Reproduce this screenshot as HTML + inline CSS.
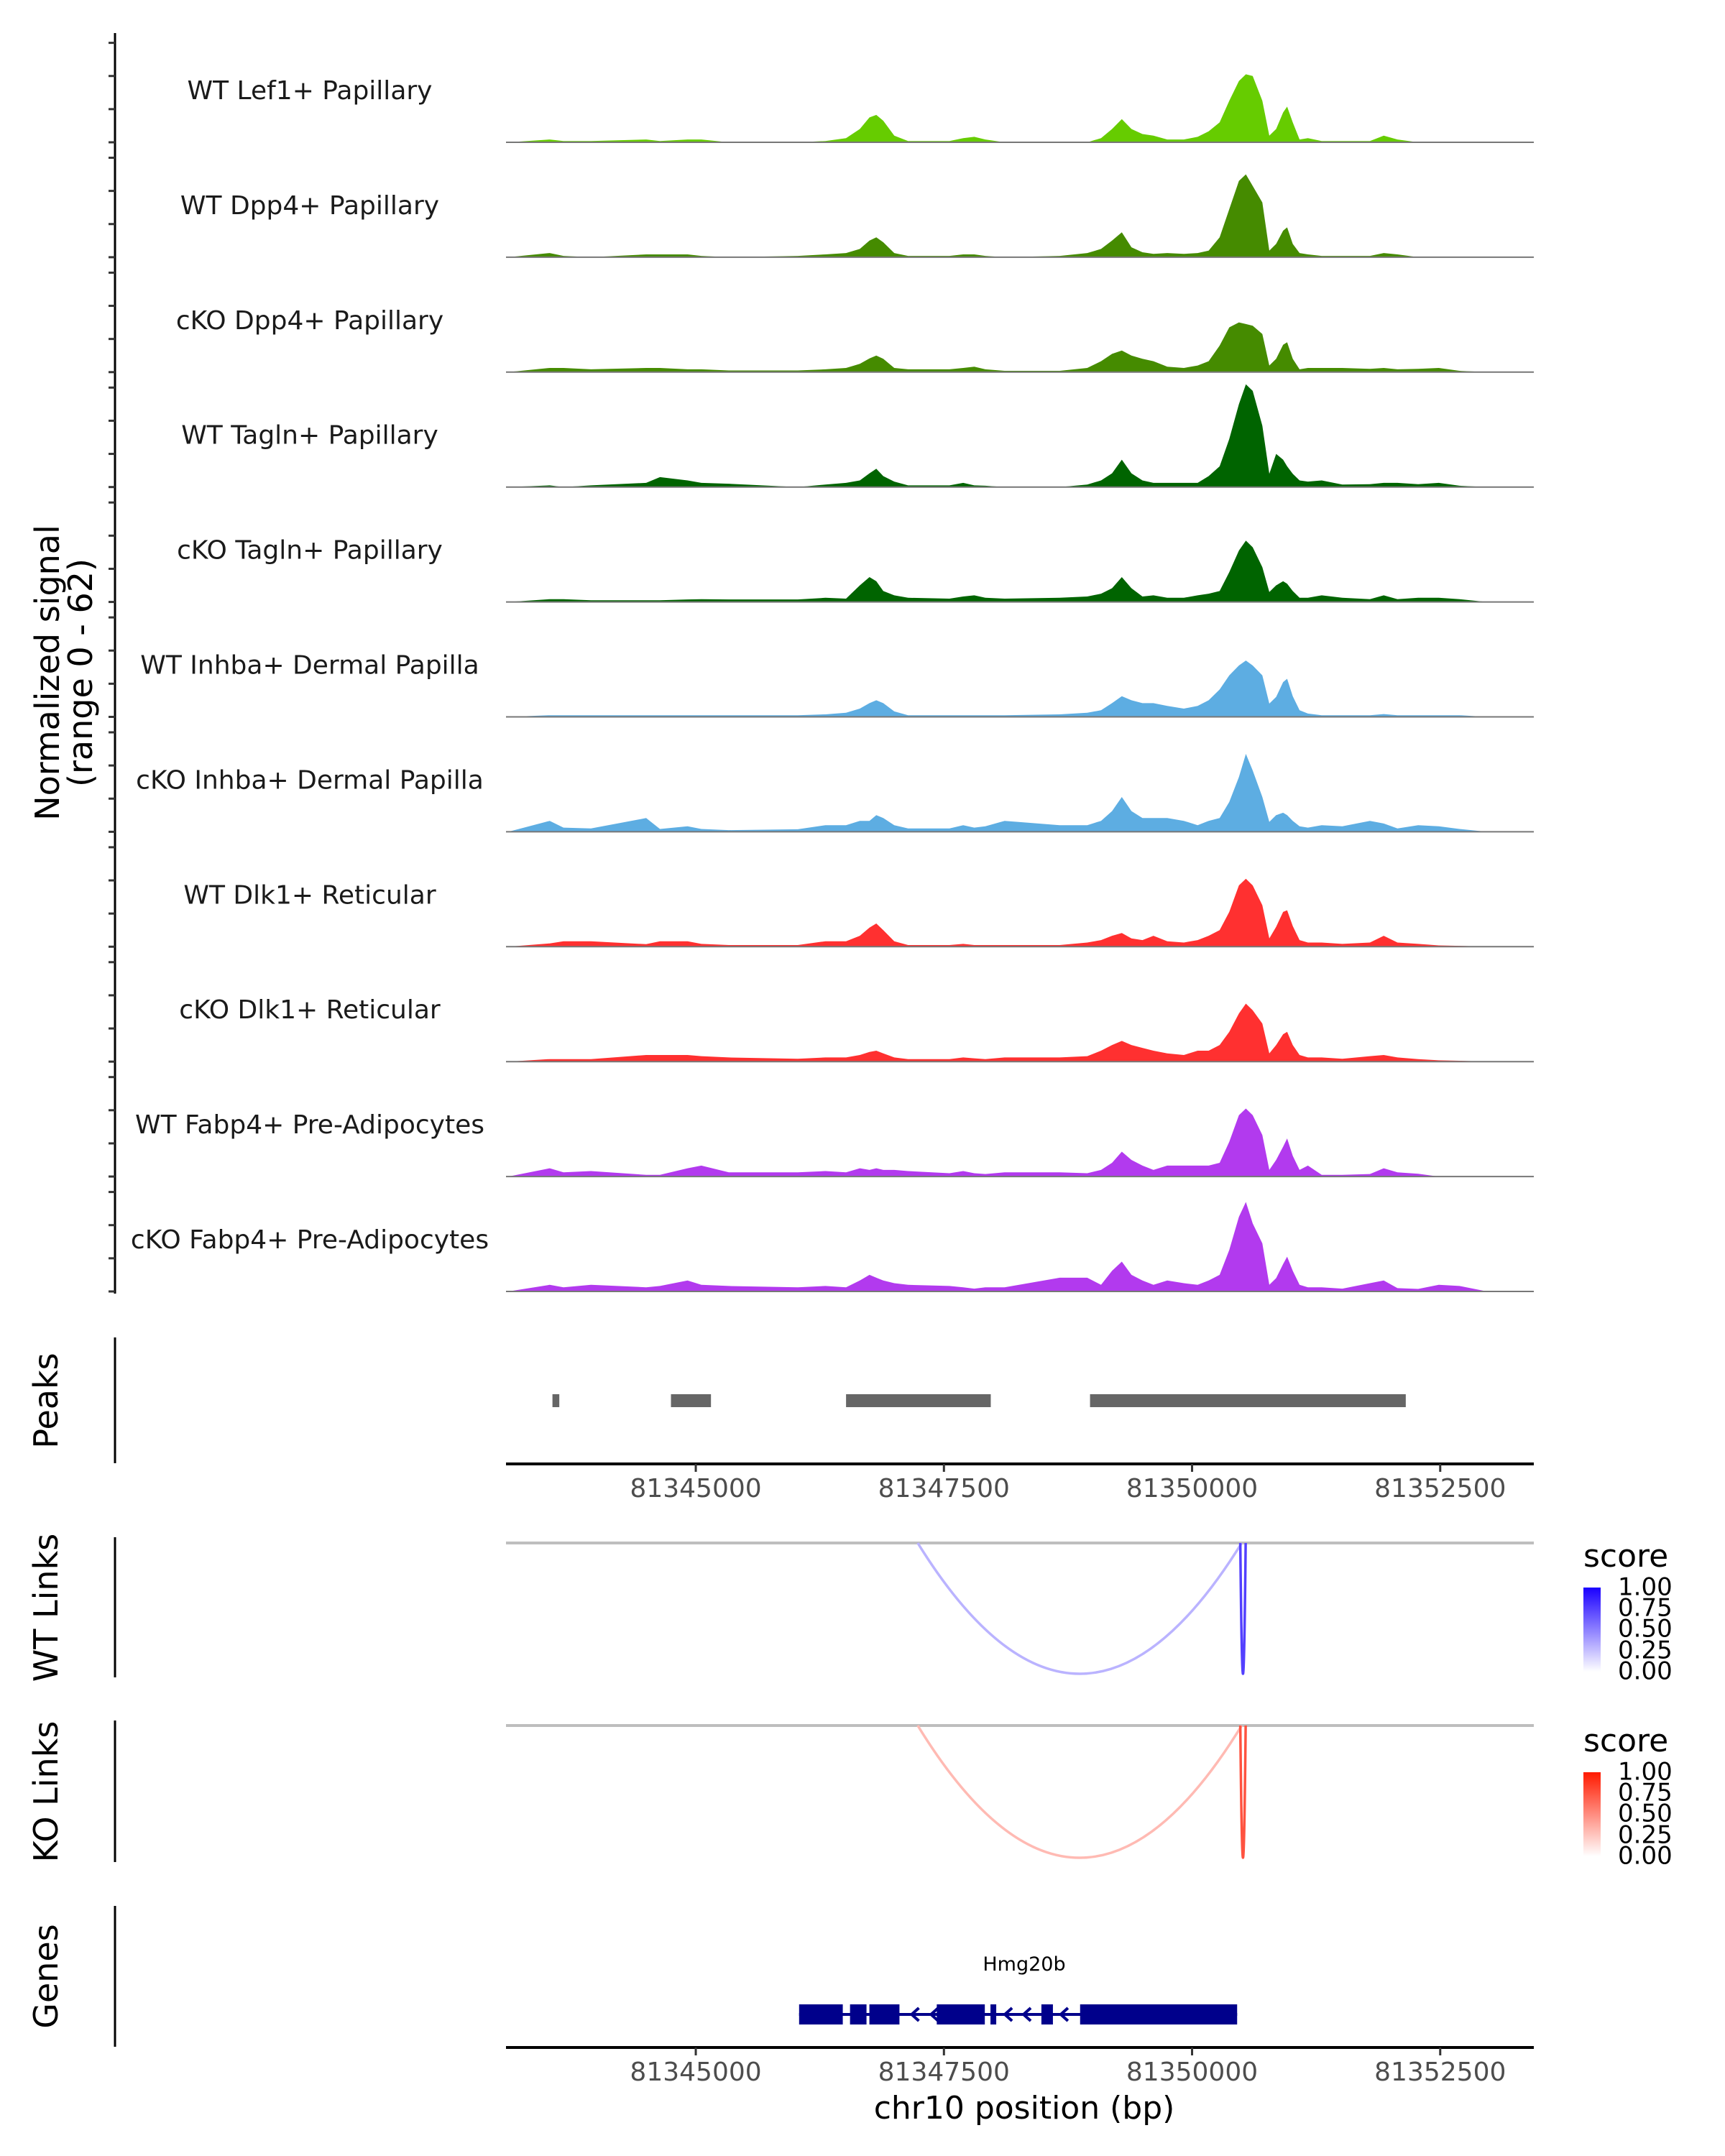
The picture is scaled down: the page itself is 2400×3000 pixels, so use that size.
<!DOCTYPE html>
<html><head><meta charset="utf-8">
<style>
html,body{margin:0;padding:0;background:#fff;}
svg{display:block;font-family:"DejaVu Sans","Liberation Sans",sans-serif;}
</style></head>
<body>
<svg id="chart" width="2400" height="3000" viewBox="0 0 2400 3000" xmlns="http://www.w3.org/2000/svg">
  <rect width="2400" height="3000" fill="#fff"/>
  <g id="tracks"></g>
  <g id="yaxis"></g>
  <text transform="translate(82,936) rotate(-90)" text-anchor="middle" font-size="46" fill="#000">Normalized signal</text>
  <text transform="translate(128,936) rotate(-90)" text-anchor="middle" font-size="46" fill="#000">(range 0 - 62)</text>

  <g id="peaks"></g>
  <line x1="160" y1="1861" x2="160" y2="2036" stroke="#000" stroke-width="3"/>
  <text transform="translate(80,1949) rotate(-90)" text-anchor="middle" font-size="46">Peaks</text>
  <g id="xaxis1"></g>

  <g id="links"></g>
  <line x1="160" y1="2139" x2="160" y2="2334" stroke="#000" stroke-width="3"/>
  <text transform="translate(80,2237) rotate(-90)" text-anchor="middle" font-size="46">WT Links</text>
  <line x1="160" y1="2394" x2="160" y2="2591" stroke="#000" stroke-width="3"/>
  <text transform="translate(80,2493) rotate(-90)" text-anchor="middle" font-size="46">KO Links</text>

  <defs>
    <linearGradient id="gBlue" x1="0" y1="1" x2="0" y2="0">
      <stop offset="0" stop-color="#ffffff"/><stop offset="1" stop-color="#1a00ff"/>
    </linearGradient>
    <linearGradient id="gRed" x1="0" y1="1" x2="0" y2="0">
      <stop offset="0" stop-color="#ffffff"/><stop offset="1" stop-color="#ff1a00"/>
    </linearGradient>
  </defs>
  <g>
    <text x="2203" y="2180" font-size="44">score</text>
    <rect x="2203" y="2209" width="24" height="117" fill="url(#gBlue)"/>
    <g font-size="34" fill="#000" dominant-baseline="middle">
      <text x="2251" y="2210">1.00</text><text x="2251" y="2239">0.75</text><text x="2251" y="2268">0.50</text><text x="2251" y="2298">0.25</text><text x="2251" y="2327">0.00</text>
    </g>
  </g>
  <g>
    <text x="2203" y="2437" font-size="44">score</text>
    <rect x="2203" y="2466" width="24" height="117" fill="url(#gRed)"/>
    <g font-size="34" fill="#000" dominant-baseline="middle">
      <text x="2251" y="2467">1.00</text><text x="2251" y="2496">0.75</text><text x="2251" y="2525">0.50</text><text x="2251" y="2555">0.25</text><text x="2251" y="2584">0.00</text>
    </g>
  </g>

  <g id="genes"></g>
  <line x1="160" y1="2652" x2="160" y2="2848" stroke="#000" stroke-width="3"/>
  <text transform="translate(80,2750) rotate(-90)" text-anchor="middle" font-size="46">Genes</text>
  <g id="xaxis2"></g>
  <text x="1425" y="2948" text-anchor="middle" font-size="44">chr10 position (bp)</text>
</svg>
<script>
const positions = [81343111,81343528,81343667,81343944,81344500,81344639,81344917,81345056,81345333,81346028,81346306,81346514,81346653,81346750,81346819,81346889,81347000,81347139,81347556,81347694,81347806,81347917,81348111,81348667,81348944,81349083,81349194,81349292,81349389,81349500,81349611,81349750,81349917,81350056,81350167,81350278,81350375,81350472,81350542,81350611,81350708,81350778,81350847,81350917,81350958,81351014,81351083,81351167,81351306,81351514,81351792,81351931,81352069,81352278,81352486,81352694,81352972,81353458];
const trackNames = ["WT Lef1+ Papillary","WT Dpp4+ Papillary","cKO Dpp4+ Papillary","WT Tagln+ Papillary","cKO Tagln+ Papillary","WT Inhba+ Dermal Papilla","cKO Inhba+ Dermal Papilla","WT Dlk1+ Reticular","cKO Dlk1+ Reticular","WT Fabp4+ Pre-Adipocytes","cKO Fabp4+ Pre-Adipocytes"];
const trackColors = ["#66CC00","#458B00","#458B00","#006400","#006400","#5DADE2","#5DADE2","#FF3030","#FF3030","#B23AEE","#B23AEE"];
const sigWtLef1 = [0,1.7,0.8,0.8,1.7,0.8,1.7,1.7,0,0,0.8,2.5,8,15,16.5,13,4,0.8,0.8,2.5,3.3,1.7,0,0,0,2.5,8,14,8,5,4,1.7,1.7,3.3,6.6,12,25,37,41,40,25,4,8,18,21.5,12,1.7,2.5,0.8,0.8,0.8,4,1.7,0,0,0,0,0];
const sigWtDpp4 = [0,2.5,0.8,0,1.7,1.7,1.7,0.8,0,0.8,1.7,2.5,5,10,12,9,2.5,0.8,0.8,1.7,1.7,0.8,0,0.8,2.5,5,10,15,6,3,2,2.5,2,2.5,4,12,29,46,50,43,33,4,8,16,18,8,2.5,1.7,0.8,0.8,0.8,2.5,1.7,0,0,0,0,0];
const sigKoDpp4 = [0,2.5,2.5,1.7,2.5,2.5,1.7,1.7,1,1,1.7,2.5,5,8.3,10,8,2.5,1.7,1.7,2.5,3.3,1.7,0.8,0.8,2.5,6.6,11,13,10,8,6.6,3.3,2.5,4,6.6,16,27,30,29,28,23,4,8,16.5,18,8,1.7,2.5,2.5,2.5,2,2.5,1.7,2,2.5,0.8,0,0];
const sigWtTagln = [0,1,0,1,2.5,6,4,2.5,2,0,1.5,2.5,4,8.3,11,6.6,3.3,1,1,2.5,1,0.8,0,0,1.5,4,8.3,16.5,8.3,4,2.5,2.5,2.5,2.5,6.6,12.5,29,50,62,58,37,8,20,16.5,12.5,8,4,3.3,4,1.5,1.7,2.5,2.5,1.7,2.5,0.8,0,0];
const sigKoTagln = [0,1.7,1.7,1,1,1,1.5,1.7,1.5,1.5,2.5,2,10,15,12.5,6.6,4,2.5,2,3.3,4,2.5,2,2.5,3.3,5,8.3,15,8.3,3.3,4,2.5,2.5,4,5,6.6,18,31,37,33,21,6,10,12.5,11,6.6,2.5,2.5,4,2.5,1.7,4,1.7,2.5,2.5,1.7,0,0];
const sigWtInhba = [0,1,1,1,1,1,1,1,1,1,1.5,2.5,5,8.3,10,8.3,3.3,1,1,1,1,1,1,1.5,2.5,4,8.3,12.5,10,8.3,8.3,6.6,5,6.6,10,16.5,25,31,34,31,25,8,12,21,23,12.5,4,2,1,1,1,1.7,1,1,1,1,0,0];
const sigKoInhba = [0,6.6,2.5,2,8.3,1.7,3.3,1.7,1,1.5,4,4,6.6,6.6,10,8.3,4,2,2,4,2.5,3.3,6.6,4,4,6.6,12.5,21,12.5,8.3,8.3,8.3,6.6,4,6.6,8.3,18,33,47,37,21,6,10,11.5,10,6.6,3.3,2.5,4,3.3,6.6,5,2,4,3.3,1.7,0,0];
const sigWtDlk1 = [0,2,3.3,3.3,1.5,3.3,3.3,1.7,1,1,3.3,3.3,6.6,11.5,14,10,3.3,1,1,1.7,1,1,1,1,2.5,4,6.6,8.3,5,4,6.6,3.3,2.5,4,6.6,10,21,37,41,37,25,5,12,21,22,12.5,4,2.5,2.5,1.7,2.5,6.6,2.5,1.7,0.8,0.5,0,0];
const sigKoDlk1 = [0,1.5,1.5,1.5,4,4,4,3.3,2.5,1.7,2.5,2.5,4,5.8,6.6,5,2.5,1.5,1.5,2.5,2,1.5,2.5,2.5,3.3,6.6,10,12.5,10,8.3,6.6,5,4,6.6,6.6,10,18,29,35,31,23,5,10,16.5,18,10,4,2.5,2.5,1.7,3.3,4,2.5,1.5,0.8,0.5,0,0];
const sigWtFabp4 = [0,5,2.5,3.3,1,1,5,6.6,2.5,2.5,3.3,2.5,5,4,5,4,4,3.3,2,3.3,2,1.5,2.5,2.5,2,4,8.3,15,10,6.6,4,6.6,6.6,6.6,6.6,8.3,21,37,41,37,25,4,10,18,23,12.5,4,6.6,1,1,1.5,5,2.5,1.7,0,0,0,0];
const sigKoFabp4 = [0,4,2.5,4,2.5,3.3,6.6,4,3.3,2.5,3.3,2.5,6.6,10,8.3,6.6,5,4,3.3,2.5,1.7,2.5,2.5,8.3,8.3,4,12.5,18,10,6.6,4,6.6,5,4,6.6,10,25,45,54,41,29,4,8,16.5,21,12.5,4,2.5,2.5,1.7,5,6.6,2,1.5,4,3.3,0,0];
const signals = [sigWtLef1,sigWtDpp4,sigKoDpp4,sigWtTagln,sigKoTagln,sigWtInhba,sigKoInhba,sigWtDlk1,sigKoDlk1,sigWtFabp4,sigKoFabp4];
const yTickValues = [0,20,40,60];
const xTickValues = [81345000,81347500,81350000,81352500];
const xTickLabels = ["81345000","81347500","81350000","81352500"];
const peakStarts = [81343556,81344750,81346514,81348972];
const peakEnds = [81343625,81345153,81347972,81352153];
const wtLinkStarts = [81347236,81350486];
const wtLinkEnds = [81350500,81350540];
const wtLinkScores = [0.3,0.75];
const koLinkStarts = [81347236,81350486];
const koLinkEnds = [81350500,81350540];
const koLinkScores = [0.3,0.75];
const exonStarts = [81346041,81346554,81346749,81347428,81347969,81348482,81348872];
const exonEnds = [81346481,81346720,81347052,81347912,81348027,81348598,81350454];
const arrowPositions = [81347204,81347399,81348143,81348331,81348706];
const geneStart = 81346041, geneEnd = 81350454, geneName = "Hmg20b";

const NS = "http://www.w3.org/2000/svg";
const X0 = 704, X1 = 2134, D0 = 81343088, D1 = 81353443;
function xScale(bp){ return X0 + (bp - D0) * (X1 - X0) / (D1 - D0); }
const YMAX = 62, TRACK_H = 143;
function baseOf(i){ return 198 + i * 159.9; }
function yScale(v, i){ return baseOf(i) - Math.min(v, YMAX) / YMAX * TRACK_H; }
function mk(tag, attrs, parent){ const e = document.createElementNS(NS, tag); for (const k in attrs) e.setAttribute(k, attrs[k]); parent.appendChild(e); return e; }

const tracks = document.getElementById("tracks");
const yaxis = document.getElementById("yaxis");
const al = mk("line", {x1:160, y1:46, x2:160, y2:1800, stroke:"#000", "stroke-width":3}, yaxis);


signals.forEach((vals, i) => {
  const base = baseOf(i);
  let d = "M" + xScale(positions[0]).toFixed(1) + "," + base;
  vals.forEach((v, j) => { d += " L" + xScale(positions[j]).toFixed(1) + "," + yScale(v, i).toFixed(1); });
  d += " L" + xScale(positions[positions.length - 1]).toFixed(1) + "," + base + " Z";
  const p = mk("path", {d: d, fill: trackColors[i]}, tracks);
  
  
  const bl = mk("line", {x1:X0, x2:X1, y1:base, y2:base, stroke:"#777", "stroke-width":2}, tracks);
  
  
  const t = mk("text", {x:431, y:(base - 60).toFixed(1), "text-anchor":"middle", "font-size":36, fill:"#1a1a1a"}, tracks);
  t.textContent = trackNames[i];
  
  
  yTickValues.forEach(tv => {
    const y = yScale(tv, i);
    const tk = mk("line", {x1:151, x2:160, y1:y, y2:y, stroke:"#333", "stroke-width":3}, yaxis);
    
    
  });
});

const peaks = document.getElementById("peaks");
peakStarts.forEach((s, i) => {
  const r = mk("rect", {x:xScale(s), y:1940, width:Math.max(xScale(peakEnds[i]) - xScale(s), 2), height:18, fill:"#666"}, peaks);
  
  
});

function drawXAxis(gid, y){
  const g = document.getElementById(gid);
  const l = mk("line", {x1:X0, x2:X1, y1:y, y2:y, stroke:"#000", "stroke-width":4}, g);
  
  
  xTickValues.forEach((tv, i) => {
    const x = xScale(tv);
    const tk = mk("line", {x1:x, x2:x, y1:y, y2:y + 11, stroke:"#333", "stroke-width":3}, g);
    
    
    const t = mk("text", {x:x, y:y + 46, "text-anchor":"middle", "font-size":36, fill:"#4d4d4d"}, g);
    t.textContent = xTickLabels[i];
    
    
  });
}
drawXAxis("xaxis1", 2037);
drawXAxis("xaxis2", 2849);

function mix(c, s){ return "rgb(" + c.map(v => Math.round(255 + (v - 255) * s)).join(",") + ")"; }
const links = document.getElementById("links");
function drawLinks(top, bottom, starts, ends, scores, rgb, name){
  const gl = mk("line", {x1:X0, x2:X1, y1:top, y2:top, stroke:"#bebebe", "stroke-width":4}, links);
  
  
  starts.forEach((s, i) => {
    const a = xScale(s), b = xScale(ends[i]);
    const cy = top + (bottom - top) * 2;
    const p = mk("path", {d:"M" + a + "," + top + " Q" + ((a + b) / 2) + "," + cy + " " + b + "," + top, fill:"none", stroke:mix(rgb, scores[i]), "stroke-width":3.5}, links);
    
    
  });
}
drawLinks(2147, 2329, wtLinkStarts, wtLinkEnds, wtLinkScores, [26,0,255], "wt-link");
drawLinks(2401, 2585, koLinkStarts, koLinkEnds, koLinkScores, [255,26,0], "ko-link");

const genes = document.getElementById("genes");
const gc = "#00008B", gy = 2803;
const gl = mk("line", {x1:xScale(geneStart), x2:xScale(geneEnd), y1:gy, y2:gy, stroke:gc, "stroke-width":4}, genes);


exonStarts.forEach((s, i) => {
  const r = mk("rect", {x:xScale(s), y:gy - 14, width:xScale(exonEnds[i]) - xScale(s), height:28, fill:gc}, genes);
  
  
});
arrowPositions.forEach(a => {
  const x = xScale(a);
  const p = mk("path", {d:"M" + (x + 6) + "," + (gy - 9) + " L" + (x - 4) + "," + gy + " L" + (x + 6) + "," + (gy + 9), fill:"none", stroke:gc, "stroke-width":4}, genes);
  
  
});
const gt = mk("text", {x:1425, y:2742, "text-anchor":"middle", "font-size":27, fill:"#000"}, genes);
gt.textContent = geneName;


</script>
</body></html>
